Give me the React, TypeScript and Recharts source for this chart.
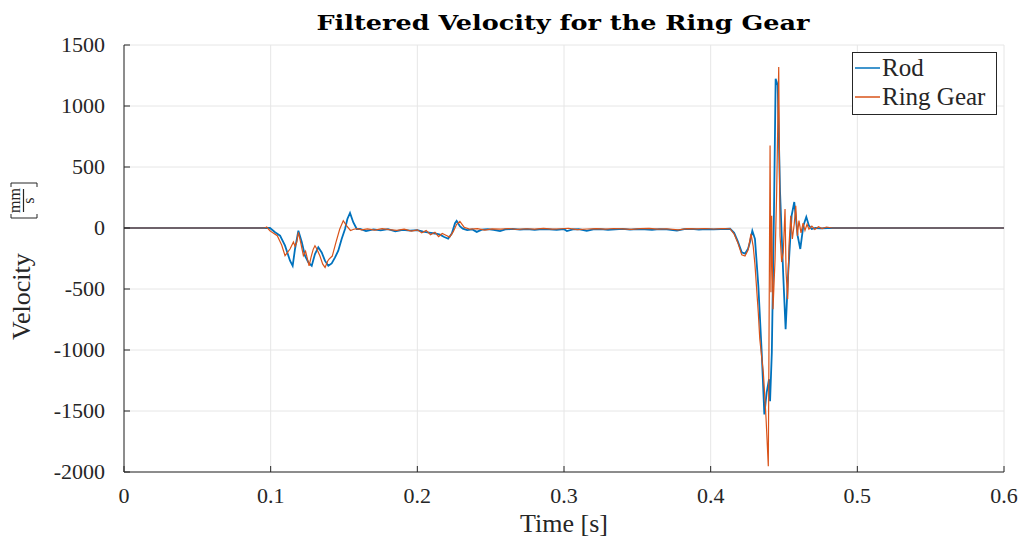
import React from 'react';
import { CartesianGrid, Line, LineChart, XAxis, YAxis } from 'recharts';

// time [s] and filtered velocity [mm/s]
const rodTime = [
  0, 0.098, 0.0995, 0.103, 0.1064, 0.1098, 0.1132, 0.115, 0.1166, 0.1189, 0.1212,
  0.1234, 0.1257, 0.128, 0.1302, 0.1325, 0.1348, 0.137, 0.1393, 0.1416, 0.1439,
  0.1461, 0.1484, 0.1507, 0.1523, 0.1541, 0.1563, 0.1587, 0.161, 0.165, 0.17,
  0.175, 0.18, 0.185, 0.19, 0.195, 0.2, 0.204, 0.208, 0.212, 0.2155, 0.218, 0.221,
  0.2235, 0.2257, 0.2268, 0.229, 0.231, 0.234, 0.2375, 0.2405, 0.244, 0.248, 0.252,
  0.2564, 0.26, 0.265, 0.27, 0.275, 0.28, 0.285, 0.29, 0.295, 0.3, 0.302, 0.306,
  0.31, 0.3155, 0.32, 0.325, 0.33, 0.335, 0.34, 0.345, 0.35, 0.355, 0.36, 0.365,
  0.37, 0.377, 0.382, 0.387, 0.392, 0.397, 0.402, 0.407, 0.4132, 0.416, 0.4185,
  0.4212, 0.4234, 0.4255, 0.4268, 0.4284, 0.4302, 0.4325, 0.4348, 0.4366, 0.4382,
  0.4398, 0.4405, 0.4417, 0.4432, 0.4443, 0.4457, 0.4473, 0.4495, 0.4511, 0.4529,
  0.4552, 0.457, 0.4593, 0.4611, 0.4632, 0.4652, 0.467, 0.4689, 0.4715, 0.475,
  0.48, 0.49, 0.5, 0.55, 0.6,
];
const rodVelocity = [
  0, 0, 0, -35, -63, -145, -268, -310, -172, -22, -115,
  -227, -282, -310, -214, -159, -200, -268, -310, -290, -241,
  -186, -90, -8, 74, 123, 47, -8, -8, -25, -12,
  -20, -10, -28, -15, -22, -18, -30, -38, -45, -55, -72, -88,
  -45, 40, 58, 15, -5, -18, -12, -32, -14, -10, -15,
  -25, -12, -8, -14, -10, -16, -9, -12, -15, -10, -25, -12,
  -10, -24, -11, -9, -15, -12, -8, -14, -10, -12, -16, -9,
  -11, -22, -10, -8, -13, -9, -12, -10, -6, -40, -110,
  -200, -210, -170, -115, -22, -90, -474, -1020, -1528, -1348,
  -1240, -1419, -1020, 156, 1224, 1170, 296, -392, -830, -364,
  101, 213, -63, -172, 19, 90, 19, -8, 0, -3,
  0, 0, 0, 0, 0,
];

const ringTime = [
  0, 0.096, 0.0973, 0.0995, 0.1015, 0.1045, 0.1075, 0.1098, 0.1132, 0.1155, 0.1166,
  0.1178, 0.1189, 0.1205, 0.1223, 0.1238, 0.1262, 0.1275, 0.129, 0.1302, 0.1315,
  0.1336, 0.1355, 0.1371, 0.1389, 0.1398, 0.142, 0.1445, 0.1471, 0.1495, 0.1517,
  0.1544, 0.1567, 0.159, 0.162, 0.166, 0.171, 0.176, 0.181, 0.186, 0.191, 0.196,
  0.2, 0.203, 0.206, 0.209, 0.212, 0.2145, 0.217, 0.2195, 0.222, 0.2245, 0.2268,
  0.229, 0.232, 0.236, 0.241, 0.246, 0.251, 0.257, 0.262, 0.268, 0.274, 0.28,
  0.286, 0.292, 0.298, 0.303, 0.309, 0.316, 0.322, 0.328, 0.334, 0.34, 0.346,
  0.352, 0.358, 0.364, 0.37, 0.378, 0.384, 0.39, 0.396, 0.402, 0.408, 0.4132,
  0.416, 0.4185, 0.4212, 0.4234, 0.4255, 0.4275, 0.429, 0.4302, 0.4325, 0.4335,
  0.4359, 0.4365, 0.4378, 0.4393, 0.4405, 0.4411, 0.4416, 0.4425, 0.4439, 0.445,
  0.4464, 0.4473, 0.4484, 0.4495, 0.4507, 0.4514, 0.4525, 0.4534, 0.4546, 0.4557,
  0.457, 0.458, 0.4591, 0.4602, 0.4616, 0.463, 0.4643, 0.4657, 0.467, 0.469,
  0.471, 0.4735, 0.476, 0.479, 0.483, 0.49, 0.5, 0.55, 0.6,
];
const ringVelocity = [
  0, 0, 8, -22, -40, -63, -140, -227, -172, -115, -150,
  -115, -35, -120, -227, -190, -310, -240, -175, -145, -172,
  -230, -296, -323, -270, -255, -230, -118, -8, 60, 20,
  -20, -10, -5, -15, -8, -18, -6, -14, -20, -10, -25,
  -15, -40, -20, -55, -35, -70, -45, -60, -75, -30, 30,
  55, 5, -10, -5, -18, -8, -10, -4, -12, -6, -9,
  -3, -10, -6, -2, -14, -8, -5, -10, -4, -7, -11,
  -5, -3, -9, -6, -15, -5, -7, -4, -8, -5, -6,
  -50, -120, -220, -230, -180, -49, -150, -300, -700, -912,
  -1183, -1300, -1570, -1953, 676, -527, 101, -665, -255, 296,
  1320, -63, -279, -200, 156, -361, -583, -145, 101, -90,
  35, 183, -63, 60, -40, 40, -20, 30, -10, 15,
  -12, 10, -5, 8, 0, 0, 0, 0, 0,
];

const timeTicks = [0, 0.1, 0.2, 0.3, 0.4, 0.5, 0.6];
const velocityTicks = [-2000, -1500, -1000, -500, 0, 500, 1000, 1500];
const seriesNames = ['Rod', 'Ring Gear'];

const rodData = rodTime.map((t, i) => ({ t, v: rodVelocity[i] }));
const ringData = ringTime.map((t, i) => ({ t, v: ringVelocity[i] }));

const SERIF = '"Liberation Serif", "DejaVu Serif", serif';
const BLUE = '#0072BD';
const ORANGE = '#D95319';

const XTick = (props: any) => {
  const { x, y, payload } = props;
  return (
    <g>
      <line x1={x} x2={x} y1={y} y2={y - 6} stroke="#262626" />
      <text x={x} y={y + 31} textAnchor="middle" fontFamily={SERIF} fontSize={22} fill="#262626">
        {payload.value}
      </text>
    </g>
  );
};

const YTick = (props: any) => {
  const { x, y, payload } = props;
  return (
    <g>
      <line x1={x} x2={x + 6} y1={y} y2={y} stroke="#262626" />
      <text x={x - 19} y={y + 7} textAnchor="end" fontFamily={SERIF} fontSize={22} fill="#262626">
        {payload.value}
      </text>
    </g>
  );
};

const YLabel = () => (
  <g transform="translate(0, 340) rotate(-90)" fill="#262626" fontFamily={SERIF}>
    <text x={0} y={30} fontSize={26}>Velocity</text>
    {/* [ mm / s ] */}
    <path d="M 122 11 L 122 37 M 122 11 L 126 11 M 122 37 L 126 37" stroke="#262626" fill="none" />
    <path d="M 157 11 L 157 37 M 157 11 L 153 11 M 157 37 L 153 37" stroke="#262626" fill="none" />
    <text x={139.5} y={20} fontSize={16} textAnchor="middle">mm</text>
    <line x1={128} x2={151} y1={23.5} y2={23.5} stroke="#262626" strokeWidth={1.2} />
    <text x={139.5} y={34} fontSize={16} textAnchor="middle">s</text>
  </g>
);

const LegendBox = () => (
  <g>
    <rect x={852.5} y={52.5} width={144} height={62} fill="#fff" stroke="#262626" />
    {seriesNames.map((name, i) => (
      <g key={name}>
        <line x1={855} x2={880} y1={68 + i * 29} y2={68 + i * 29} stroke={i === 0 ? BLUE : ORANGE} strokeWidth={1.5} />
        <text x={882} y={76 + i * 29} fontFamily={SERIF} fontSize={25} fill="#262626">
          {name}
        </text>
      </g>
    ))}
  </g>
);

export default function App() {
  return (
    <div style={{ position: 'absolute', left: 0, top: 0, width: 1019, height: 541, background: '#fff' }}>
      <LineChart width={1019} height={541} margin={{ top: 45, right: 15, bottom: 39, left: 60 }}>
        <CartesianGrid stroke="#e6e6e6" strokeWidth={1} />
        <XAxis
          dataKey="t"
          type="number"
          domain={[0, 0.6]}
          ticks={timeTicks}
          allowDataOverflow
          height={30}
          stroke="#262626"
          tickSize={0}
          tickMargin={0}
          tick={XTick}
        />
        <YAxis
          type="number"
          domain={[-2000, 1500]}
          ticks={velocityTicks}
          allowDataOverflow
          width={64}
          stroke="#262626"
          tickSize={0}
          tickMargin={0}
          tick={YTick}
        />
        <Line data={rodData} dataKey="v" name={seriesNames[0]} stroke={BLUE} strokeWidth={1.8} dot={false} isAnimationActive={false} />
        <Line data={ringData} dataKey="v" name={seriesNames[1]} stroke={ORANGE} strokeWidth={1.2} dot={false} isAnimationActive={false} />
        <text x={563} y={30} textAnchor="middle" fontFamily='"DejaVu Serif", serif' fontWeight="bold" fontSize={20} fill="#000" textLength={493} lengthAdjust="spacingAndGlyphs">
          Filtered Velocity for the Ring Gear
        </text>
        <text x={564} y={532} textAnchor="middle" fontFamily={SERIF} fontSize={26} fill="#262626">
          Time [s]
        </text>
        <YLabel />
        <LegendBox />
      </LineChart>
    </div>
  );
}
